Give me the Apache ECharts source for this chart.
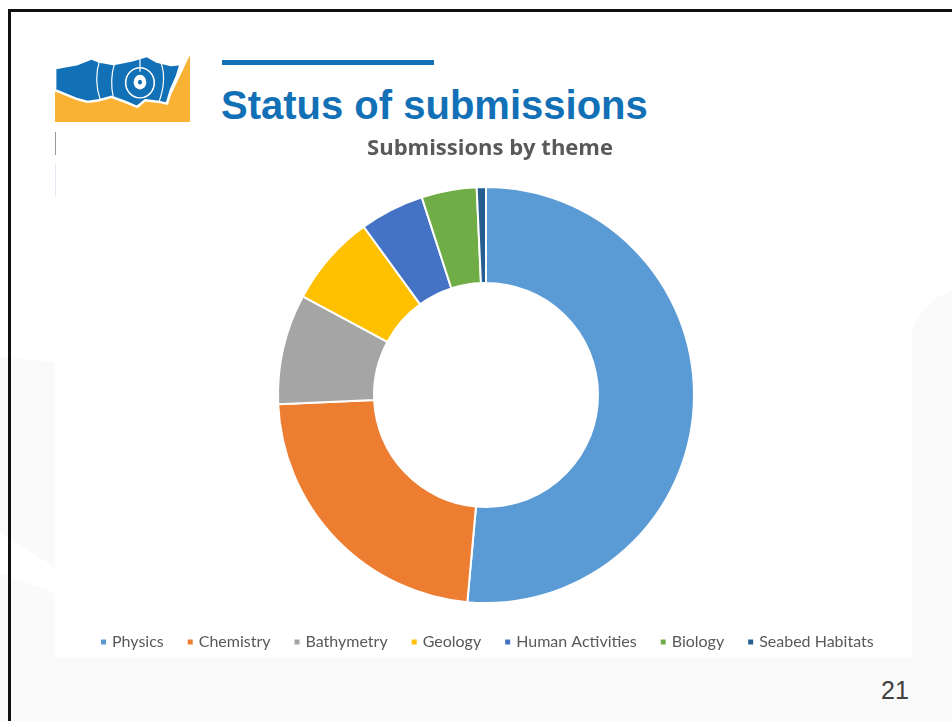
<!DOCTYPE html>
<html>
<head>
<meta charset="utf-8">
<script src="https://cdn.jsdelivr.net/npm/echarts@6/dist/echarts.min.js"></script>
<style>
  html, body { margin: 0; padding: 0; background: #fff; }
  #slide { position: relative; width: 952px; height: 721px; overflow: hidden; }
  #deco { position: absolute; left: 0; top: 0; }
  #frame { position: absolute; left: 8px; top: 9px; width: 960px; height: 730px;
           border-left: 3px solid #111; border-top: 3px solid #111; }
  #title { position: absolute; left: 221px; top: 83px; font: bold 40px "Liberation Sans", Arial, sans-serif;
           color: #1270b6; white-space: nowrap; }
  #page { position: absolute; left: 881px; top: 676px; font: 25px "Liberation Sans", Arial, sans-serif; color: #404040; }
  #chart { position: absolute; left: 0; top: 0; width: 952px; height: 721px; }
</style>
</head>
<body>
<div id="slide">
  <svg id="deco" width="952" height="721">
    <!-- faint background shapes -->
    <polygon points="0,357 55,362 55,567 0,533" fill="#fafafa"/>
    <polygon points="0,573 55,593 55,721 0,721" fill="#fafafa"/>
    <path d="M912,330 Q925,300 952,290 L952,721 L912,721 Z" fill="#fafafa"/>
    <rect x="0" y="657" width="952" height="64" fill="#fafafa"/>
    <line x1="55.5" y1="132" x2="55.5" y2="155" stroke="#9a9a9a" stroke-width="1"/>
    <line x1="55.5" y1="163" x2="55.5" y2="196" stroke="#e3eaf5" stroke-width="1"/>
    <!-- title rule -->
    <rect x="222" y="60" width="212" height="5" fill="#1270b6"/>
    <!-- logo -->
    <svg x="55" y="55" width="135" height="67" viewBox="38 45 340 200" preserveAspectRatio="none">
      <polygon points="38,245 378,245 378,45 320,190 300,185 265,180 245,200 215,185 180,170 150,180 120,185 90,175 38,150" fill="#f9b233"/>
      <polygon points="38,85 60,80 95,72 130,55 150,65 185,72 230,62 270,48 295,65 330,75 355,72 345,110 330,150 320,190 300,185 265,180 245,200 215,185 180,170 150,180 120,185 90,175 38,150"
               fill="#1270b6" stroke="#fff" stroke-width="7" stroke-linejoin="round"/>
      <path d="M150,62 Q135,120 152,180" fill="none" stroke="#fff" stroke-width="3"/>
      <path d="M188,70 Q175,120 185,172" fill="none" stroke="#fff" stroke-width="3"/>
      <path d="M305,68 Q320,120 300,185" fill="none" stroke="#fff" stroke-width="3"/>
      <line x1="252" y1="55" x2="252" y2="95" stroke="#fff" stroke-width="3"/>
      <ellipse cx="252" cy="128" rx="36" ry="45" fill="none" stroke="#fff" stroke-width="4"/>
      <ellipse cx="252" cy="126" rx="16" ry="22" fill="#fff"/>
      <ellipse cx="252" cy="126" rx="5" ry="7" fill="#1270b6"/>
    </svg>
  </svg>
  <div id="frame"></div>
  <div id="title">Status of submissions</div>
  <div id="page">21</div>
  <div id="chart"></div>
</div>
<script>
const themes = ["Physics", "Chemistry", "Bathymetry", "Geology", "Human Activities", "Biology", "Seabed Habitats"];
const counts = [72, 32, 12, 10, 7, 6, 1];
const colors = ["#5b9bd5", "#ed7d31", "#a5a5a5", "#ffc000", "#4472c4", "#70ad47", "#255e91"];

const chart = echarts.init(document.getElementById("chart"));
chart.setOption({
  animation: false,
  color: colors,
  title: {
    text: "Submissions by theme",
    left: 485,
    textAlign: "center",
    top: 133,
    textStyle: { fontFamily: "Open Sans", fontWeight: "bold", fontSize: 22, color: "#595959" },
  },
  legend: {
    data: themes,
    left: 94,
    top: 629,
    icon: "rect",
    itemWidth: 7,
    itemHeight: 7,
    itemGap: 22,
    textStyle: { fontFamily: "Lato", fontSize: 16, color: "#595959" },
  },
  series: [{
    type: "pie",
    center: [486, 395],
    radius: [112, 208],
    startAngle: 90,
    label: { show: false },
    labelLine: { show: false },
    itemStyle: { borderColor: "#fff", borderWidth: 2 },
    emphasis: { disabled: true },
    data: themes.map((name, i) => ({ name, value: counts[i] })),
  }],
});
</script>
</body>
</html>
